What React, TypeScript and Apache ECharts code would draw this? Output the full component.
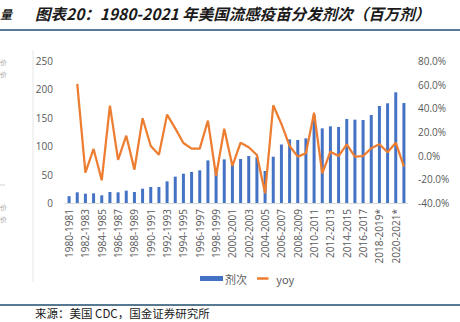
import React, { useEffect, useRef } from "react";
import * as echarts from "echarts";

const categories = [
  "1980-1981", "1981-1982", "1982-1983", "1983-1984", "1984-1985", "1985-1986",
  "1986-1987", "1987-1988", "1988-1989", "1989-1990", "1990-1991", "1991-1992",
  "1992-1993", "1993-1994", "1994-1995", "1995-1996", "1996-1997", "1997-1998",
  "1998-1999", "1999-2000", "2000-2001", "2001-2002", "2002-2003", "2003-2004",
  "2004-2005", "2005-2006", "2006-2007", "2007-2008", "2008-2009", "2009-2010",
  "2010-2011", "2011-2012", "2012-2013", "2013-2014", "2014-2015", "2015-2016",
  "2016-2017", "2017-2018", "2018-2019*", "2019-2020*", "2020-2021*", "2021-2022*",
];

const doses = [
  12, 18.8, 16.4, 17, 13.5, 19.4, 18.8, 21.7, 19.4, 25.2, 28.2, 28.2,
  38.1, 46.4, 51.6, 54.6, 57.5, 75, 62, 76.8, 69, 77.5, 82.7, 80.4,
  56.3, 81.5, 103, 112, 110.9, 113.8, 155, 131.4, 135, 133.8, 147.9, 146.7,
  146.1, 154.9, 170.8, 175.5, 194.9, 176,
];

const yoy: (number | null)[] = [
  null, 60.6, -14.4, 5.7, -20.8, 42.3, -3.6, 16.9, -11.8, 31.6, 8.2, 0.8,
  34.7, 23.1, 10.7, 5.9, 5.9, 29.6, -17.2, 22.8, -8.7, 11, 7.1, 0.6,
  -31.8, 42.6, 26.8, 8.2, -0.8, 2, 36.3, -14.9, 3.4, -0.3, 9.6, -0.8,
  -0.3, 6.2, 9.6, 2.9, 11, -9.3,
];

const leftTicks = { min: 0, max: 250, interval: 50 };
const rightTicks = { min: -40, max: 80, interval: 20 };

const titleText = "图表20：1980-2021 年美国流感疫苗分发剂次（百万剂）";
const sourceText = "来源：美国 CDC，国金证券研究所";

export default function App() {
  const ref = useRef<HTMLDivElement>(null);
  useEffect(() => {
    if (!ref.current) return;
    const chart = echarts.init(ref.current, null, { renderer: "svg" });
    const axisFont = "'Open Sans', 'Liberation Sans', sans-serif";
    chart.setOption({
      animation: false,
      backgroundColor: "#ffffff",
      grid: { left: 65, right: 52, top: 61, bottom: 119, containLabel: false },
      legend: {
        left: 195,
        top: 268,
        itemGap: 10,
        itemWidth: 23,
        itemHeight: 5,
        textStyle: { color: "#595959", fontSize: 11, fontFamily: "'Noto Sans CJK SC', sans-serif", padding: [0, 0, 0, -3] },
        data: [
          { name: "剂次", icon: "rect" },
          { name: "yoy", icon: "path://M0,0 M0,10 M0,2.5 L23,2.5 L23,7.5 L0,7.5 Z", itemStyle: { color: "#ED7D31" } },
        ],
      },
      xAxis: {
        type: "category",
        data: categories,
        axisLine: { lineStyle: { color: "#d9d9d9" } },
        axisTick: { show: false },
        axisLabel: {
          rotate: 90,
          interval: 1,
          color: "#595959",
          fontSize: 10,
          fontFamily: axisFont,
          margin: 6,
        },
      },
      yAxis: [
        {
          type: "value",
          ...leftTicks,
          splitLine: { show: false },
          axisLine: { show: false },
          axisTick: { show: false },
          axisLabel: { color: "#595959", fontSize: 10, fontFamily: axisFont, margin: 12 },
        },
        {
          type: "value",
          ...rightTicks,
          splitLine: { show: false },
          axisLine: { show: false },
          axisTick: { show: false },
          axisLabel: {
            color: "#595959",
            fontSize: 10,
            fontFamily: axisFont,
            margin: 10,
            formatter: (v: number) => v.toFixed(1) + "%",
          },
        },
      ],
      series: [
        {
          name: "剂次",
          type: "bar",
          data: doses,
          barWidth: 3,
          itemStyle: { color: "#4472C4" },
          yAxisIndex: 0,
        },
        {
          name: "yoy",
          type: "line",
          data: yoy,
          yAxisIndex: 1,
          symbol: "none",
          lineStyle: { color: "#ED7D31", width: 2.25 },
          itemStyle: { color: "#ED7D31" },
          z: 3,
        },
      ],
      graphic: [
        {
          type: "text",
          left: 0,
          top: 7,
          style: { text: "量", fontSize: 12, fontStyle: "italic", fontWeight: "bold", fill: "#1a1a1a", fontFamily: "'Noto Sans CJK SC', sans-serif" },
        },
        {
          type: "text",
          left: 35,
          top: 5,
          style: { text: titleText, fontSize: 15.5, fontStyle: "italic", fontWeight: "bold", fill: "#1a1a1a", fontFamily: "'Noto Sans CJK SC', sans-serif" },
        },
        { type: "line", shape: { x1: 0, y1: 30, x2: 460, y2: 30 }, style: { stroke: "#1F4E79", lineWidth: 1.5 } },
        { type: "line", shape: { x1: 33, y1: 50, x2: 33, y2: 282 }, style: { stroke: "#e6e6e6", lineWidth: 1 } },
        { type: "line", shape: { x1: 0, y1: 185, x2: 5, y2: 185 }, style: { stroke: "#d0d0d0", lineWidth: 1 } },
        { type: "text", left: 0, top: 59, style: { text: "价", fontSize: 7, fill: "#aaaaaa" } },
        { type: "text", left: 0, top: 71, style: { text: "价", fontSize: 7, fill: "#aaaaaa" } },
        { type: "text", left: 0, top: 204, style: { text: "价", fontSize: 7, fill: "#aaaaaa" } },
        { type: "text", left: 0, top: 216, style: { text: "价", fontSize: 7, fill: "#aaaaaa" } },
        { type: "line", shape: { x1: 0, y1: 305, x2: 460, y2: 305 }, style: { stroke: "#1F4E6E", lineWidth: 1.5 } },
        {
          type: "text",
          left: 35,
          top: 307,
          style: { text: sourceText, fontSize: 11.5, fill: "#1a1a1a", fontFamily: "'Noto Sans CJK SC', sans-serif" },
        },
      ],
    });
    return () => chart.dispose();
  }, []);
  return <div ref={ref} style={{ width: 460, height: 322, position: "fixed", left: 0, top: 0 }} />;
}
